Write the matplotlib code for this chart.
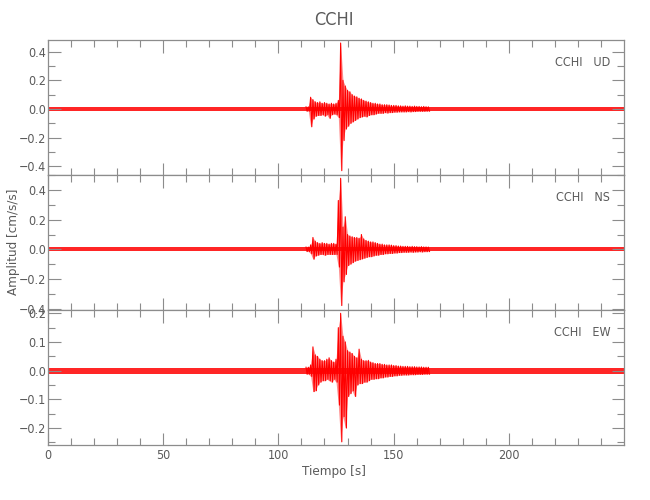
import matplotlib
matplotlib.use("Agg")
import matplotlib.pyplot as plt
from matplotlib.ticker import MultipleLocator, FuncFormatter
import numpy as np

plt.rcParams['font.family'] = ['DejaVu Sans']
plt.rcParams['font.stretch'] = 'condensed'
plt.rcParams['font.weight'] = 'light'

station = "CCHI"
components = ["UD", "NS", "EW"]
t_end = 249.8

# per-second peak values (cm/s/s) through the event window
t_event = list(range(112, 166))
ud_up = [0.015, 0.015, 0.082, 0.065, 0.05, 0.045, 0.05, 0.04, 0.045, 0.04,
         0.035, 0.04, 0.035, 0.04, 0.06, 0.46, 0.2, 0.16, 0.13, 0.12,
         0.1, 0.09, 0.085, 0.075, 0.07, 0.06, 0.055, 0.05, 0.045, 0.04,
         0.04, 0.035, 0.035, 0.03, 0.03, 0.03, 0.028, 0.025, 0.025, 0.025,
         0.022, 0.022, 0.02, 0.022, 0.02, 0.02, 0.018, 0.02, 0.018, 0.018,
         0.016, 0.018, 0.016, 0.015]
ud_dn = [-0.015, -0.015, -0.124, -0.07, -0.05, -0.045, -0.045, -0.04, -0.05, -0.04,
         -0.065, -0.04, -0.035, -0.04, -0.06, -0.43, -0.22, -0.14, -0.12, -0.1,
         -0.09, -0.08, -0.07, -0.06, -0.055, -0.05, -0.055, -0.045, -0.04, -0.04,
         -0.035, -0.03, -0.03, -0.03, -0.025, -0.028, -0.025, -0.025, -0.022, -0.022,
         -0.02, -0.02, -0.02, -0.02, -0.018, -0.02, -0.018, -0.018, -0.016, -0.016,
         -0.016, -0.016, -0.015, -0.015]
ns_up = [0.015, 0.015, 0.03, 0.08, 0.055, 0.045, 0.04, 0.045, 0.04, 0.04,
         0.035, 0.04, 0.04, 0.035, 0.33, 0.48, 0.15, 0.22, 0.1, 0.09,
         0.085, 0.08, 0.08, 0.075, 0.1, 0.07, 0.06, 0.055, 0.05, 0.05,
         0.045, 0.04, 0.035, 0.035, 0.03, 0.03, 0.03, 0.028, 0.025, 0.025,
         0.022, 0.022, 0.02, 0.02, 0.02, 0.018, 0.02, 0.018, 0.018, 0.016,
         0.018, 0.016, 0.016, 0.015]
ns_dn = [-0.015, -0.015, -0.03, -0.067, -0.045, -0.04, -0.035, -0.035, -0.04, -0.035,
         -0.035, -0.035, -0.035, -0.035, -0.12, -0.38, -0.22, -0.17, -0.11, -0.1,
         -0.09, -0.08, -0.075, -0.07, -0.065, -0.06, -0.055, -0.05, -0.05, -0.045,
         -0.04, -0.04, -0.035, -0.035, -0.03, -0.03, -0.028, -0.028, -0.025, -0.025,
         -0.022, -0.022, -0.02, -0.02, -0.02, -0.018, -0.02, -0.018, -0.018, -0.016,
         -0.018, -0.016, -0.016, -0.015]
ew_up = [0.012, 0.012, 0.02, 0.083, 0.055, 0.05, 0.04, 0.035, 0.035, 0.04,
         0.045, 0.035, 0.03, 0.04, 0.15, 0.2, 0.12, 0.1, 0.07, 0.065,
         0.06, 0.05, 0.045, 0.075, 0.04, 0.035, 0.035, 0.036, 0.03, 0.028,
         0.025, 0.025, 0.025, 0.022, 0.022, 0.02, 0.02, 0.02, 0.018, 0.018,
         0.016, 0.016, 0.015, 0.015, 0.015, 0.014, 0.014, 0.014, 0.013, 0.013,
         0.013, 0.012, 0.012, 0.012]
ew_dn = [-0.012, -0.012, -0.02, -0.073, -0.07, -0.05, -0.04, -0.035, -0.035, -0.03,
         -0.035, -0.04, -0.03, -0.04, -0.12, -0.248, -0.16, -0.2, -0.09, -0.08,
         -0.07, -0.09, -0.05, -0.045, -0.045, -0.04, -0.04, -0.035, -0.03, -0.03,
         -0.028, -0.028, -0.025, -0.025, -0.022, -0.022, -0.02, -0.02, -0.018, -0.018,
         -0.016, -0.016, -0.015, -0.015, -0.015, -0.014, -0.014, -0.014, -0.013, -0.013,
         -0.013, -0.012, -0.012, -0.012]
noise = [0.013, 0.013, 0.011]

ups = [ud_up, ns_up, ew_up]
dns = [ud_dn, ns_dn, ew_dn]
ylims = [(-0.46, 0.481), (-0.41, 0.502), (-0.259, 0.2115)]
ymajor = [0.2, 0.2, 0.1]
yminor = [0.1, 0.1, 0.05]

txt = '#5a5a5a'
ax_col = '#8c8c8c'
red = '#ff0000'

yfmt = FuncFormatter(lambda v, pos: f"{v:.1f}".replace('-', '\u2212'))

fig = plt.figure(figsize=(6.5, 5), dpi=100)
boxes = [(0.0731, 0.65, 0.887, 0.27),
         (0.0731, 0.38, 0.887, 0.27),
         (0.0731, 0.11, 0.887, 0.27)]

for i, comp in enumerate(components):
    ax = fig.add_axes(boxes[i])
    ax.fill_between([0, t_end], -noise[i], noise[i], color=red, lw=0, alpha=0.85)
    t = np.array(t_event, dtype=float)
    # pale envelope plus the peak-to-peak trace
    ax.fill_between(t, dns[i], ups[i], color=red, lw=0, alpha=0.45)
    xs = np.column_stack([t, t + 0.5]).ravel()
    ys = np.column_stack([ups[i], dns[i]]).ravel()
    ax.plot(xs, ys, color=red, lw=0.8, clip_on=False)
    ax.set_xlim(0, t_end)
    ax.set_ylim(*ylims[i])
    ax.xaxis.set_major_locator(MultipleLocator(50))
    ax.xaxis.set_minor_locator(MultipleLocator(10))
    ax.yaxis.set_major_locator(MultipleLocator(ymajor[i]))
    ax.yaxis.set_minor_locator(MultipleLocator(yminor[i]))
    ax.tick_params(which='both', direction='in', top=True, right=True,
                   color=ax_col, labelcolor=txt, labelsize=9, width=0.8)
    ax.tick_params(which='major', length=9)
    ax.tick_params(which='minor', length=5)
    ax.tick_params(axis='x', pad=3)
    ax.tick_params(axis='y', pad=1)
    for s in ax.spines.values():
        s.set_color(ax_col)
        s.set_linewidth(0.9)
    ax.yaxis.set_major_formatter(yfmt)
    if i < 2:
        ax.tick_params(axis='x', labelbottom=False)
    ax.text(0.976, 0.837, f"{station}   {comp}", transform=ax.transAxes,
            ha='right', va='center', color=txt, fontsize=9)

fig.text(0.513, 0.96, station, ha='center', va='center', color=txt, fontsize=13)
fig.text(0.513, 0.058, "Tiempo [s]", ha='center', va='center', color=txt, fontsize=9.5)
fig.text(0.021, 0.516, "Amplitud [cm/s/s]", ha='center', va='center',
         rotation=90, color=txt, fontsize=9.5)

fig.savefig("out.png", dpi=100)
